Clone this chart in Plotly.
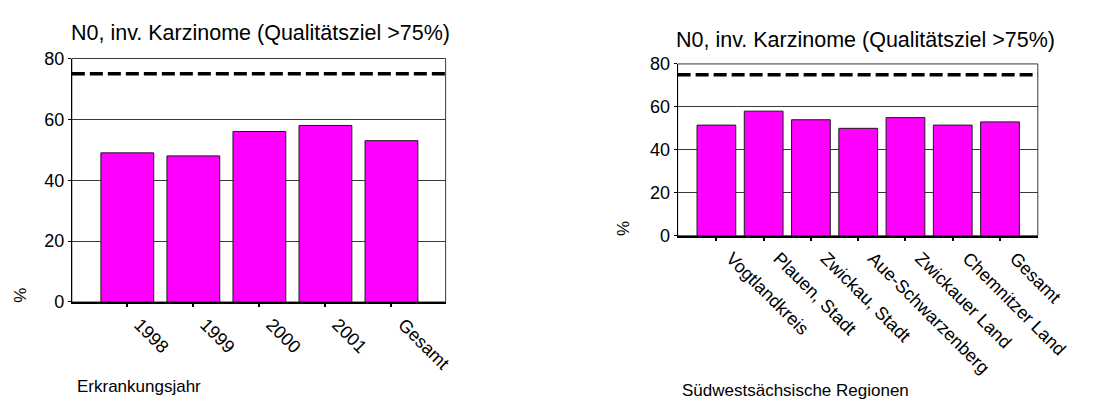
import plotly.graph_objects as go

# Data
jahre = ["1998", "1999", "2000", "2001", "Gesamt"]
anteil_jahre = [49, 48, 56, 58, 53]

regionen = ["Vogtlandkreis", "Plauen, Stadt", "Zwickau, Stadt", "Aue-Schwarzenberg",
            "Zwickauer Land", "Chemnitzer Land", "Gesamt"]
anteil_regionen = [51.5, 58, 54, 50, 55, 51.5, 53]

qualitaetsziel = 75
y_ticks = [0, 20, 40, 60, 80]

titel = "N0, inv. Karzinome (Qualitätsziel >75%)"
W, H = 1097, 409
FONT = "Liberation Sans, Arial, sans-serif"

fig = go.Figure()

fig.add_trace(go.Bar(x=jahre, y=anteil_jahre, width=0.8,
                     marker=dict(color="#FF00FF", line=dict(color="#1a1a1a", width=1)),
                     xaxis="x", yaxis="y", showlegend=False))
fig.add_trace(go.Bar(x=regionen, y=anteil_regionen, width=0.82,
                     marker=dict(color="#FF00FF", line=dict(color="#1a1a1a", width=1)),
                     xaxis="x2", yaxis="y2", showlegend=False))

def px_x(p):
    return p / W

def px_y(p):
    return 1 - p / H

common_x = dict(type="category", showgrid=False, showline=True, linecolor="black", linewidth=2,
                ticks="outside", ticklen=3, tickwidth=2, tickcolor="black",
                tickangle=45, tickfont=dict(family=FONT, size=18, color="black"))
common_y = dict(range=[0, 80], tickvals=y_ticks, showgrid=True, gridcolor="#3a3a3a", gridwidth=1,
                showline=True, linecolor="black", linewidth=1, ticks="outside", ticklen=3,
                tickcolor="black", zeroline=False,
                tickfont=dict(family=FONT, size=18, color="black"))

fig.update_layout(
    width=W, height=H, autosize=False,
    margin=dict(l=0, r=0, t=0, b=0),
    paper_bgcolor="white", plot_bgcolor="white",
    xaxis=dict(common_x, domain=[px_x(74), px_x(459)], range=[-0.84, 4.82], anchor="y",
               ticklabelshift=12),
    yaxis=dict(common_y, domain=[px_y(307), px_y(51)], anchor="x"),
    xaxis2=dict(common_x, domain=[px_x(698), px_x(1069)], range=[-0.82, 6.8], anchor="y2",
                ticklabelshift=15),
    yaxis2=dict(common_y, domain=[px_y(237.3), px_y(56.7)], anchor="x2"),
)

# Plot frames and target lines
for xr, yr in (("x", "y"), ("x2", "y2")):
    fig.add_shape(type="rect", xref=f"{xr} domain", yref=f"{yr} domain", x0=0, x1=1, y0=0, y1=1,
                  line=dict(color="#3a3a3a", width=1), layer="below")
    fig.add_shape(type="line", xref=f"{xr} domain", yref=yr, x0=0, x1=1,
                  y0=qualitaetsziel, y1=qualitaetsziel,
                  line=dict(color="black", width=3.5, dash="13px,5px"))

def label(text, x, y, size, angle=0, xanchor="center"):
    fig.add_annotation(text=text, x=px_x(x), y=px_y(y), xref="paper", yref="paper",
                       showarrow=False, textangle=angle, xanchor=xanchor, yanchor="middle",
                       font=dict(family=FONT, size=size, color="black"))

label(titel, 268, 24, 21.5)
label(titel, 891, 32, 21.5)
label("%", 21, 300, 17, angle=-90)
label("%", 642, 230, 17, angle=-90)
label("Erkrankungsjahr", 77, 396, 17, xanchor="left")
label("Südwestsächsische Regionen", 700, 400, 17, xanchor="left")

fig.write_html("out.html")
